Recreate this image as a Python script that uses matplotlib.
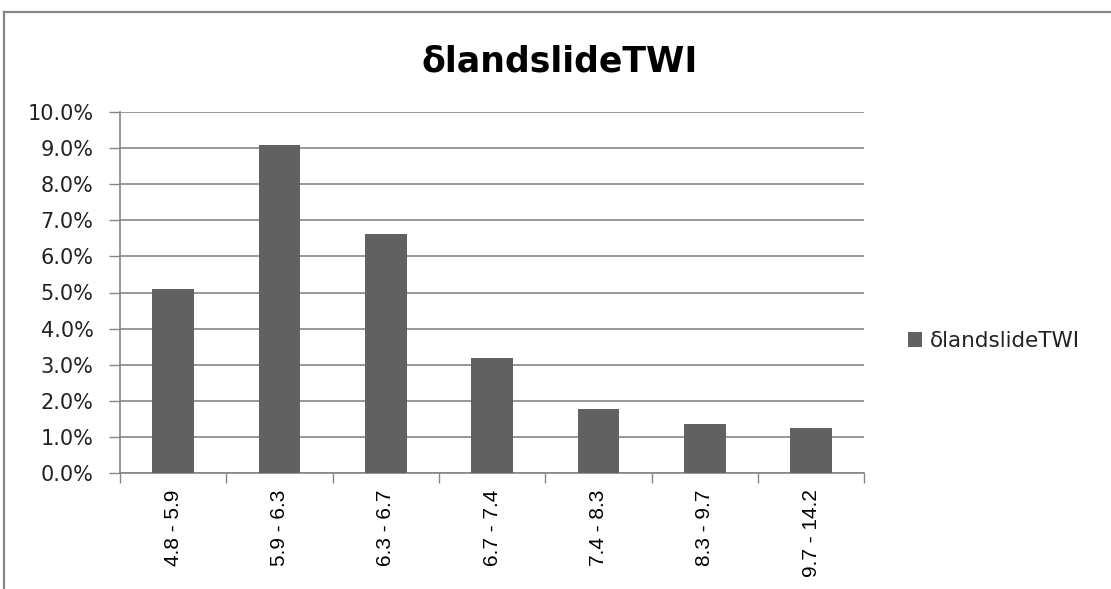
import matplotlib
matplotlib.use('Agg')
import matplotlib.pyplot as plt
from matplotlib.lines import Line2D
from matplotlib.ticker import FuncFormatter
import numpy as np

# data
categories = ['4.8 - 5.9', '5.9 - 6.3', '6.3 - 6.7', '6.7 - 7.4',
              '7.4 - 8.3', '8.3 - 9.7', '9.7 - 14.2']
values = [5.11, 9.10, 6.63, 3.18, 1.78, 1.34, 1.25]   # percent
series_name = 'δlandslideTWI'

bar_color = '#616161'
grid_color = '#868686'

W, H = 1111, 589
fig = plt.figure(figsize=(W / 100, H / 100), dpi=100)
ax = fig.add_axes([120 / W, 1 - 472.7 / H, (864.3 - 120) / W, (472.7 - 112.3) / H])

x = np.arange(len(categories))
bars = ax.bar(x, values, width=0.39, color=bar_color, zorder=3, label=series_name)

ax.set_xlim(-0.5, len(categories) - 0.5)
ax.set_ylim(0, 10)
ax.set_yticks(np.arange(0, 11, 1))
ax.yaxis.set_major_formatter(FuncFormatter(lambda v, p: '%.1f%%' % v))
ax.grid(axis='y', color=grid_color, linewidth=1.2, zorder=0)

# boundary ticks (major, no labels) and category labels on minor ticks
ax.set_xticks(np.arange(-0.5, len(categories), 1.0))
ax.set_xticklabels([])
ax.set_xticks(x, minor=True)
ax.set_xticklabels(categories, minor=True, rotation=90, va='top', ha='center',
                   fontsize=15, family='Liberation Sans')
ax.tick_params(axis='x', which='major', direction='out', length=7, width=1, color=grid_color)
ax.tick_params(axis='x', which='minor', direction='in', length=6, width=1,
               color='#a8a8a8', pad=12)
ax.tick_params(axis='y', direction='out', length=8, width=1, color=grid_color,
               pad=11, labelsize=15, labelcolor='#222222')

for s in ['top', 'right']:
    ax.spines[s].set_visible(False)
for s in ['left', 'bottom']:
    ax.spines[s].set_color(grid_color)
    ax.spines[s].set_linewidth(1.2)

# title
fig.text(560 / W, 1 - 71 / H, 'δlandslideTWI', ha='center', va='baseline',
         fontsize=25, fontweight='bold', color='black')

# legend
leg = fig.legend(loc='center left', bbox_to_anchor=(908 / W, 1 - 341 / H),
                 frameon=False, fontsize=15.5, handlelength=0.65, handleheight=0.65,
                 handletextpad=0.36, borderpad=0, borderaxespad=0)
for t in leg.get_texts():
    t.set_color('#222222')

# outer chart frame (only left and top edges are visible)
fig.add_artist(Line2D([4 / W, 4 / W], [0, 1 - 12 / H], color=grid_color, linewidth=1.6))
fig.add_artist(Line2D([4 / W, 1], [1 - 12 / H, 1 - 12 / H], color=grid_color, linewidth=1.6))

fig.savefig('out.png', dpi=100)
